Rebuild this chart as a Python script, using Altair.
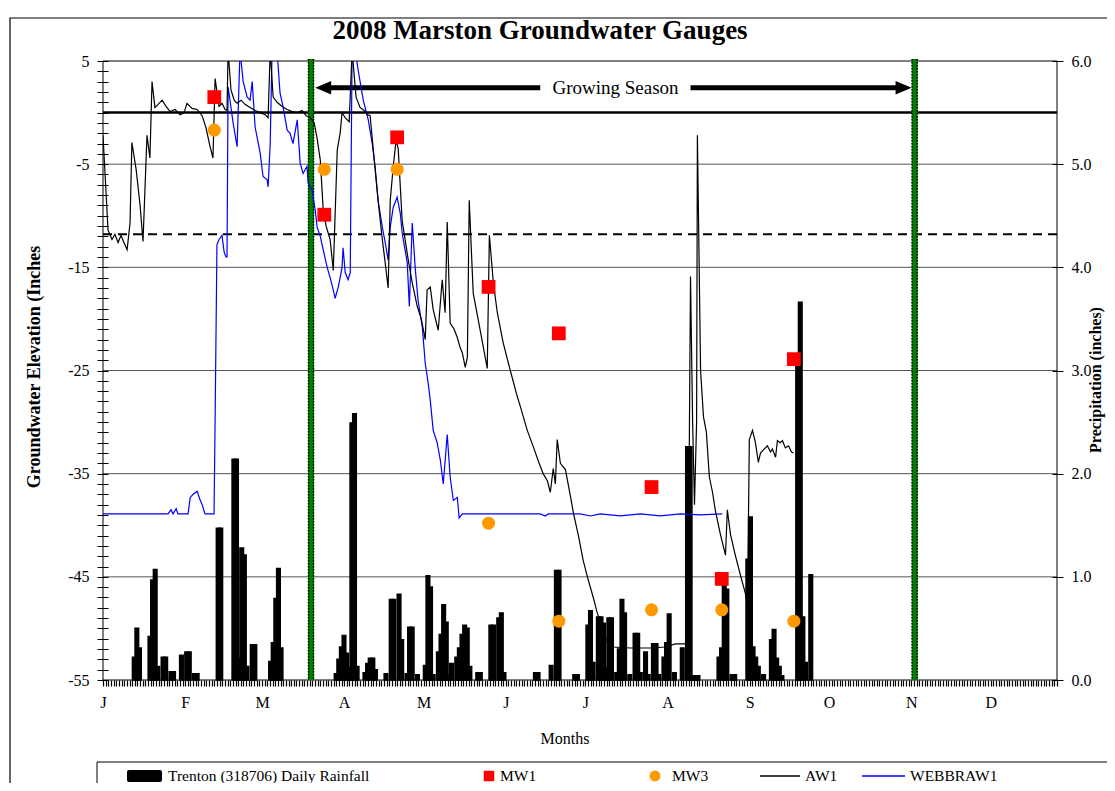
import altair as alt
import pandas as pd

# ---------------- data ----------------
# AW1 groundwater gauge (day of year, inches relative to surface)
aw1_day = [0, 1.9, 3.4, 4.5, 5.7, 6.8, 7.9, 9.1, 10.2, 10.9,
           12.5, 14.0, 15.1, 16.6, 17.7, 18.5, 19.6, 20.8, 22.3, 23.8,
           25.3, 27.2, 29.1, 30.6, 31.7, 33.6, 35.5, 37.4, 38.9, 40.4,
           41.5, 42.3, 43.8, 44.9, 46.1, 46.8, 47.2, 48.3, 49.5, 50.6,
           52.1, 53.6, 55.5, 57.4, 59.3, 61.2, 62.3, 63.1, 64.2, 65.7,
           67.6, 69.5, 71.4, 73.3, 75.1, 76.7, 78.2, 79.7, 80.8, 82.0,
           83.1, 84.2, 85.7, 86.9, 88.4, 89.5, 90.2, 91.4, 92.9, 94.0,
           95.5, 97.0, 98.6, 99.7, 100.8, 102.0, 103.8, 105.4, 106.5, 107.6,
           108.4, 109.5, 110.6, 111.4, 112.9, 115.2, 116.7, 118.6, 120.1, 121.6,
           122.3, 123.5, 124.6, 126.5, 128.0, 129.1, 129.9, 131.0, 132.5, 133.7,
           134.8, 135.6, 136.7, 137.5, 138.2, 139.7, 141.6, 143.5, 145.0, 145.8,
           147.3, 148.8, 151.0, 153.7, 156.3, 157.5, 160.1, 162.4, 164.3, 166.1,
           167.7, 168.8, 169.9, 170.7, 171.4, 172.6, 174.5, 176.4, 177.5, 179.4,
           181.2, 182.8, 185.0, 186.5, 188.8, 190.3, 192.2, 199.0, 206.6, 212.2,
           216.0, 219.8, 220.9, 221.7, 222.5, 223.2, 224.0, 224.3, 225.5, 226.6,
           227.7, 228.8, 230.0, 231.1, 233.0, 234.9, 235.6, 236.8, 238.6, 240.5,
           242.4, 243.2, 243.9, 245.1, 246.2, 247.3, 248.1, 249.2, 250.7, 251.9,
           252.6, 253.8, 254.5, 255.6, 256.4, 257.5, 258.7, 259.8, 260.6]
aw1_level = [-2.2, -11.4, -12.3, -11.8, -12.6, -11.9, -12.6, -13.3, -10.7, -2.9,
             -5.5, -9.0, -12.5, -2.2, -4.4, 3.0, 0.5, 0.8, 1.2, 0.6,
             0.1, 0.3, -0.2, 0.0, 0.9, 0.4, 0.3, -0.3, -1.5, -3.3,
             -4.4, 3.3, 0.6, 0.9, 0.3, 0.2, 6.0, 2.2, 1.2, 0.9,
             1.2, 0.8, 0.5, 0.2, 0.0, -0.2, -0.5, 6.0, 1.5, 1.0,
             0.6, 0.3, 0.1, 0.0, 0.2, -0.3, -0.5, -1.0, -2.5, -4.6,
             -9.4, -11.0, -12.3, -15.3, -3.6, -2.0, 0.0, -0.5, -0.9, 6.0,
             1.5, 0.5, 0.2, -0.2, -0.3, -3.6, -8.5, -12.3, -14.6, -17.0,
             -8.5, -5.3, -2.7, -3.5, -10.5, -14.3, -16.5, -18.8, -20.0, -22.0,
             -17.2, -16.9, -19.1, -21.1, -16.2, -19.4, -10.6, -20.4, -21.0, -21.8,
             -22.8, -23.3, -24.7, -23.7, -8.5, -17.5, -20.1, -22.7, -24.8, -11.9,
             -16.5, -19.4, -22.3, -25.0, -27.5, -28.5, -30.8, -32.4, -33.8, -35.0,
             -35.7, -36.8, -34.5, -36.0, -31.7, -34.0, -34.6, -37.2, -38.8, -41.0,
             -43.4, -45.0, -47.0, -48.5, -50.2, -51.3, -51.8, -51.9, -51.9, -51.8,
             -51.5, -51.5, -45.0, -15.9, -30.0, -38.0, -30.0, -2.2, -25.0, -29.5,
             -31.0, -35.3, -36.8, -38.6, -40.9, -42.9, -38.5, -40.9, -42.9, -44.8,
             -46.6, -47.9, -31.7, -30.8, -32.0, -33.9, -33.0, -32.7, -32.3, -32.9,
             -32.6, -33.4, -31.8, -32.0, -31.8, -32.5, -32.3, -32.9, -33.0]

# WEBBRAW1 gauge
web_day = [0, 17.7, 24.5, 25.7, 26.4, 27.6, 28.3, 32.1, 32.9, 34.0,
           35.5, 36.6, 37.4, 38.5, 41.9, 42.3, 43.0, 43.8, 44.9, 45.7,
           46.4, 46.8, 47.2, 49.1, 50.6, 51.7, 52.9, 54.4, 55.5, 56.3,
           57.4, 59.3, 60.4, 61.9, 62.3, 63.1, 63.8, 65.0, 65.7, 66.8,
           68.0, 69.5, 70.6, 71.7, 73.3, 74.4, 75.5, 77.0, 77.4, 78.9,
           80.1, 80.8, 82.0, 83.1, 84.6, 85.7, 86.9, 87.6, 88.7, 89.5,
           90.2, 90.6, 91.4, 92.5, 93.3, 94.0, 95.2, 96.3, 98.2, 100.1,
           101.6, 102.7, 103.8, 105.4, 106.5, 107.6, 108.4, 109.5, 111.0, 112.2,
           112.9, 114.8, 115.6, 116.7, 117.8, 118.9, 120.5, 121.6, 122.7, 123.5,
           124.6, 126.1, 127.3, 128.4, 129.9, 131.0, 132.2, 133.7, 134.4, 135.6,
           149.9, 165.0, 166.9, 168.0, 180.1, 183.9, 187.7, 195.2, 202.8, 210.3,
           217.9, 225.5, 233.7]
web_level = [-38.9, -38.9, -38.9, -38.5, -38.9, -38.4, -38.9, -38.9, -37.3, -37.0,
             -36.7, -37.5, -38.0, -38.9, -38.9, -30.0, -12.8, -12.3, -11.9, -13.5,
             -14.0, -14.0, 2.5, -1.0, -3.3, 6.0, 3.0, 1.5, 1.2, 3.0,
             -1.4, -3.9, -6.2, -6.5, -7.2, -3.0, 6.0, 5.5, 6.0, 1.9,
             0.5, -1.7, -2.0, -3.0, -0.7, -4.9, -5.9, -5.2, -6.8, -7.5,
             -9.5, -11.1, -12.0, -13.3, -15.0, -16.0, -17.2, -18.0, -17.0, -16.0,
             -15.0, -13.1, -15.5, -16.2, -15.5, 6.0, 6.0, 4.1, 1.2, -0.7,
             -3.0, -5.3, -8.5, -11.1, -12.6, -14.3, -11.1, -9.2, -8.2, -9.8,
             -11.7, -14.5, -18.8, -10.7, -15.0, -18.2, -20.8, -24.3, -26.2, -27.9,
             -30.8, -32.0, -33.7, -36.0, -31.2, -35.3, -37.6, -37.3, -39.3, -38.9,
             -38.9, -38.9, -39.1, -38.9, -38.9, -39.1, -38.9, -39.1, -38.9, -39.1,
             -38.9, -39.0, -38.9]

# monitoring wells (sampling days)
mw_day = [42.0, 83.5, 111.0, 145.5, 172.0, 207.0, 233.5, 260.7]
mw1_level = [1.5, -9.9, -2.4, -16.9, -21.4, -36.3, -45.2, -23.9]
mw3_level = [-1.7, -5.5, -5.5, -39.8, -49.3, -48.2, -48.2, -49.3]

# Trenton (318706) daily rainfall, inches
rain_day = [10, 11, 12, 16, 17, 18, 19, 21, 22, 24, 25, 28, 30, 31, 33, 34,
            42, 43, 48, 49, 50, 51, 52, 53, 55, 56, 62, 63, 64, 65, 66,
            87, 88, 89, 90, 91, 92, 93, 94, 95, 98, 99, 100, 101, 102,
            106, 108, 109, 111, 112, 114, 115, 116, 118, 121, 122, 123, 124,
            126, 127, 128, 129, 130, 131, 133, 134, 135, 136, 137, 138,
            141, 142, 146, 147, 149, 150, 151, 163, 164, 169, 171, 172,
            178, 179, 183, 184, 185, 187, 188, 189, 190, 191, 192, 194,
            195, 196, 197, 199, 201, 202, 203, 205, 206, 208, 209, 210,
            212, 213, 214, 216, 219, 221, 222, 223, 224, 225, 233, 234,
            235, 236, 238, 239, 244, 245, 246, 247, 248, 250, 253, 254,
            255, 256, 257, 263, 264, 265, 266, 268]
rain_in = [0.22, 0.50, 0.31, 0.42, 0.97, 1.07, 0.13, 0.22, 0.22, 0.08, 0.08, 0.24, 0.27, 0.27, 0.06, 0.06,
           1.47, 1.47, 2.14, 2.14, 0.21, 1.28, 1.21, 0.13, 0.34, 0.34, 0.18, 0.36, 0.79, 1.08, 0.31,
           0.06, 0.20, 0.32, 0.43, 0.26, 0.12, 2.49, 2.58, 0.13, 0.07, 0.16, 0.21, 0.21, 0.10,
           0.06, 0.78, 0.78, 0.83, 0.39, 0.06, 0.51, 0.51, 0.05, 0.14, 1.01, 0.90, 0.05,
           0.27, 0.44, 0.73, 0.56, 0.05, 0.16, 0.22, 0.31, 0.44, 0.53, 0.50, 0.13,
           0.07, 0.07, 0.53, 0.53, 0.60, 0.65, 0.07, 0.07, 0.07, 0.14, 1.06, 1.06,
           0.05, 0.05, 0.53, 0.67, 0.17, 0.61, 0.61, 0.55, 0.12, 0.60, 0.60, 0.07,
           0.30, 0.78, 0.65, 0.05, 0.45, 0.45, 0.07, 0.27, 0.05, 0.35, 0.35, 0.05,
           0.22, 0.36, 0.64, 0.07, 0.31, 2.26, 2.26, 0.04, 0.04, 0.04, 0.22, 0.31,
           0.94, 0.88, 0.05, 0.05, 1.17, 1.58, 0.32, 0.22, 0.13, 0.05, 0.39, 0.49,
           0.21, 0.13, 0.04, 3.05, 3.66, 0.61, 0.17, 1.02]

month_start = [0, 31, 60, 91, 121, 152, 182, 213, 244, 274, 305, 335]
month_label = ["J", "F", "M", "A", "M", "J", "J", "A", "S", "O", "N", "D"]
grid_levels = [-5, -15, -25, -35, -45]
zero_level = [0.0]
dashed_level = [-11.8]
season_days = [78.5, 306.3]
arrow_from = [85.7, 221.7]
arrow_to = [165.0, 299.5]
arrow_level = 2.4
label_day = 193.4

# ---------------- chart ----------------
W, H = 954, 619
SERIF = "Liberation Serif"
xs = alt.Scale(domain=[0, 360], nice=False, zero=False)
ys = alt.Scale(domain=[-55, 5], nice=False, zero=False)
ps = alt.Scale(domain=[0, 6], nice=False, zero=True)
one = alt.Data(values=[{}])

aw1 = pd.DataFrame({"day": aw1_day, "level": aw1_level})
web = pd.DataFrame({"day": web_day, "level": web_level})
mw = pd.DataFrame({"day": mw_day, "mw1": mw1_level, "mw3": mw3_level})
rain = pd.DataFrame({"day": rain_day, "rain": rain_in})

def X(field="day"):
    return alt.X(f"{field}:Q", scale=xs, axis=None)

def Y(field="level"):
    return alt.Y(f"{field}:Q", scale=ys, axis=None)

def txt(text, x, y, size=16, weight="normal", angle=0, align="center"):
    return alt.Chart(one).mark_text(text=text, font=SERIF, fontSize=size, fontWeight=weight,
                                    angle=angle, align=align, baseline="middle",
                                    color="black").encode(x=alt.value(x), y=alt.value(y))

def hrule(x1, x2, y, color="black", width=1.0, dash=None):
    kw = dict(color=color, strokeWidth=width)
    if dash:
        kw["strokeDash"] = dash
    return alt.Chart(one).mark_rule(**kw).encode(x=alt.value(x1), x2=alt.value(x2), y=alt.value(y))

def vrule(x, y1, y2, color="black", width=1.0):
    return alt.Chart(one).mark_rule(color=color, strokeWidth=width).encode(
        x=alt.value(x), y=alt.value(y1), y2=alt.value(y2))

frame = alt.Chart(one).mark_rect(fillOpacity=0, stroke="black", strokeWidth=1.2).encode(
    x=alt.value(-93), x2=alt.value(1010), y=alt.value(-43), y2=alt.value(760))

grid = alt.Chart(pd.DataFrame({"level": grid_levels})).mark_rule(color="#555555", strokeWidth=1).encode(
    y=Y(), x=alt.value(0), x2=alt.value(W))

borders = [hrule(0, W, 0), hrule(0, W, H), vrule(0, 0, H), vrule(W, 0, H)]

zero_line = alt.Chart(pd.DataFrame({"level": zero_level})).mark_rule(color="black", strokeWidth=2.5).encode(
    y=Y(), x=alt.value(0), x2=alt.value(W))
dash_line = alt.Chart(pd.DataFrame({"level": dashed_level})).mark_rule(
    color="black", strokeWidth=2, strokeDash=[9, 6]).encode(y=Y(), x=alt.value(0), x2=alt.value(W))

season_df = pd.DataFrame({"day": season_days})
season_green = alt.Chart(season_df).mark_rule(color="#008000", strokeWidth=6).encode(
    x=X(), y=alt.value(-2), y2=alt.value(H))
season_dot1 = alt.Chart(season_df).mark_rule(color="black", strokeWidth=1.5, strokeDash=[1.5, 1.5], xOffset=-2.5).encode(
    x=X(), y=alt.value(-2), y2=alt.value(H))
season_dot2 = alt.Chart(season_df).mark_rule(color="black", strokeWidth=1.5, strokeDash=[1.5, 1.5], xOffset=2.5).encode(
    x=X(), y=alt.value(-2), y2=alt.value(H))

arrow_df = pd.DataFrame({"day": arrow_from, "day2": arrow_to, "level": [arrow_level] * 2})
shaft = alt.Chart(arrow_df).mark_rule(color="black", strokeWidth=5).encode(
    x=X(), x2="day2:Q", y=Y())
head_l = alt.Chart(pd.DataFrame({"day": [arrow_from[0] - 2.6], "level": [arrow_level]})).mark_point(
    shape="M -1 0 L 1 -0.85 L 1 0.85 Z", size=256, filled=True, color="black", opacity=1).encode(x=X(), y=Y())
head_r = alt.Chart(pd.DataFrame({"day": [arrow_to[1] + 2.6], "level": [arrow_level]})).mark_point(
    shape="M 1 0 L -1 -0.85 L -1 0.85 Z", size=256, filled=True, color="black", opacity=1).encode(x=X(), y=Y())
season_txt = alt.Chart(pd.DataFrame({"day": [label_day], "level": [arrow_level]})).mark_text(
    text="Growing Season", font=SERIF, fontSize=19, color="black").encode(x=X(), y=Y())

x_axis = alt.Axis(orient="bottom", values=list(range(0, 361)), tickSize=6, tickWidth=1.2, tickColor="black",
                  labelExpr="indexof(%s, datum.value) >= 0 ? %s[indexof(%s, datum.value)] : ''" % (
                      month_start, [str(m) for m in month_label], month_start),
                  labelFont=SERIF, labelFontSize=16, labelColor="black", labelPadding=8,
                  labelFlush=False, labelOverlap=False, domain=False, grid=False, title=None, zindex=2)
y_axis = alt.Axis(orient="left", values=list(range(-55, 6)), tickSize=11, offset=-5, tickColor="black",
                  labelExpr="(datum.value + 55) % 10 == 0 ? '' + datum.value : ''",
                  labelFont=SERIF, labelFontSize=16, labelColor="black", labelPadding=8,
                  labelOverlap=False, domain=False, grid=False, title=None, zindex=2)
p_axis = alt.Axis(orient="right", values=[0, 1, 2, 3, 4, 5, 6], tickSize=11, offset=-5, tickColor="black",
                  labelExpr="format(datum.value, '.1f')",
                  labelFont=SERIF, labelFontSize=16, labelColor="black", labelPadding=8,
                  labelOverlap=False, domain=False, grid=False, title=None, zindex=2)

bars = alt.Chart(rain).mark_bar(size=3.5, color="black", stroke="black", strokeWidth=1.6).encode(
    x=X(), y=alt.Y("rain:Q", scale=ps, axis=p_axis))

aw1_line = alt.Chart(aw1).mark_line(color="black", strokeWidth=1.2, clip=True).encode(
    x=alt.X("day:Q", scale=xs, axis=x_axis), y=alt.Y("level:Q", scale=ys, axis=y_axis))
web_line = alt.Chart(web).mark_line(color="#0000FF", strokeWidth=1.2, clip=True).encode(x=X(), y=Y())
mw1_pts = alt.Chart(mw).mark_square(size=190, color="#FF0000", opacity=1).encode(x=X(), y=Y("mw1"))
mw3_pts = alt.Chart(mw).mark_circle(size=170, color="#FF9900", opacity=1).encode(x=X(), y=Y("mw3"))

LY = 715
legend = [
    alt.Chart(one).mark_rect(fill="white", stroke="black", strokeWidth=1).encode(
        x=alt.value(-6), x2=alt.value(1007), y=alt.value(701), y2=alt.value(770)),
    alt.Chart(one).mark_rect(color="black", cornerRadius=2).encode(
        x=alt.value(24), x2=alt.value(59), y=alt.value(LY - 6), y2=alt.value(LY + 6)),
    txt("Trenton (318706) Daily Rainfall", 65, LY, size=15.5, align="left"),
    alt.Chart(one).mark_square(size=110, color="#FF0000", opacity=1).encode(x=alt.value(386), y=alt.value(LY)),
    txt("MW1", 397, LY, size=15.5, align="left"),
    alt.Chart(one).mark_circle(size=120, color="#FF9900", opacity=1).encode(x=alt.value(552), y=alt.value(LY)),
    txt("MW3", 569, LY, size=15.5, align="left"),
    hrule(657, 697, LY, width=1.5),
    txt("AW1", 702, LY, size=15.5, align="left"),
    hrule(759, 802, LY, color="#0000FF", width=1.5),
    txt("WEBBRAW1", 807, LY, size=15.5, align="left"),
]

texts = [
    txt("2008 Marston Groundwater Gauges", 437, -30, size=27, weight="bold"),
    txt("Months", 462, 678, size=16),
    txt("Groundwater Elevation (Inches", -68, 306, size=18, weight="bold", angle=270),
    txt("Precipitation (inches)", 993, 319, size=16, weight="bold", angle=270),
]

chart = alt.layer(
    frame, grid, bars, *borders, zero_line, dash_line,
    season_green, season_dot1, season_dot2, shaft, head_l, head_r, season_txt,
    web_line, aw1_line, mw1_pts, mw3_pts, *legend, *texts,
).resolve_scale(x="independent", y="independent").properties(
    width=W, height=H,
    padding={"left": 95, "top": 53, "right": 50, "bottom": 103},
    autosize=alt.AutoSizeParams(type="none"),
).configure_view(stroke=None)

chart.save("out.html", embed_options={"renderer": "svg", "actions": False})
